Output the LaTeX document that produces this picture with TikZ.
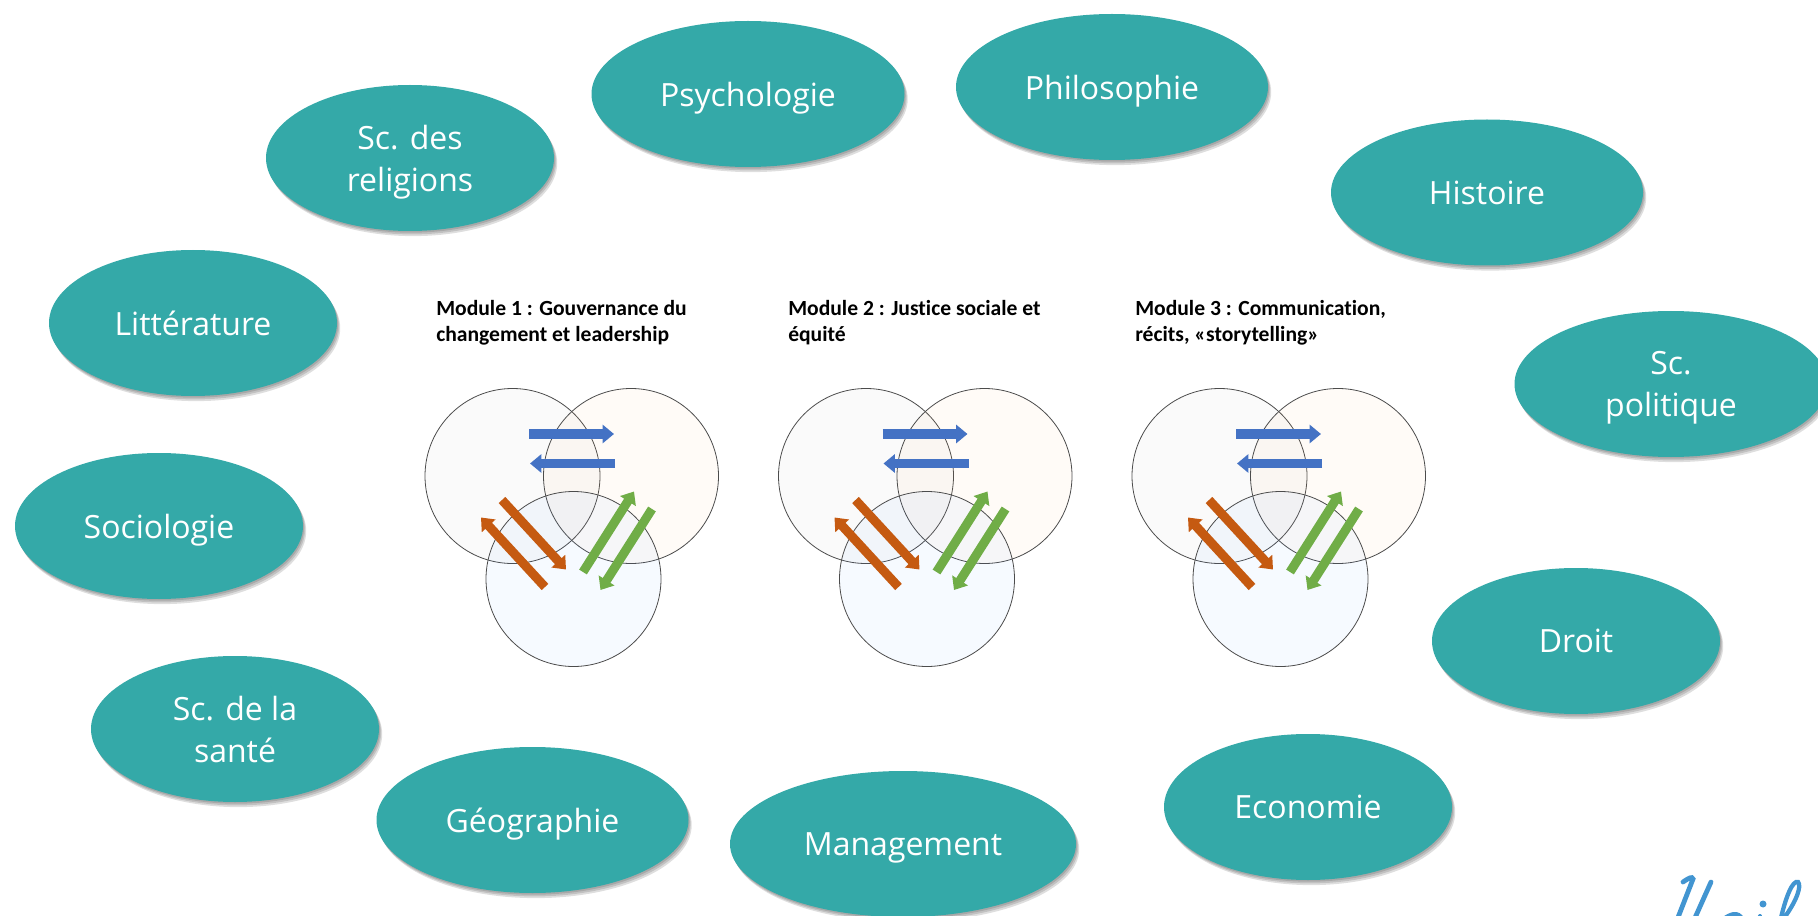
\documentclass[tikz,border=0pt]{standalone}
\usepackage{xcolor}
\usepackage{fontspec}
\setmainfont{Open Sans}
\newfontfamily\headfont[Ligatures=NoCommon]{Carlito}
\usetikzlibrary{arrows.meta}
\usetikzlibrary{shapes.geometric}
\usetikzlibrary{shadows}
\definecolor{ovalteal}{HTML}{34A9A8}
\definecolor{arrowblue}{HTML}{4472C4}
\definecolor{arrowbrown}{HTML}{C55A11}
\definecolor{arrowgreen}{HTML}{70AD47}
\definecolor{logoblue}{HTML}{4295D1}
\tikzset{
  softshadow/.style={general shadow={shadow xshift=#1,shadow yshift=-#1*1.6,opacity=0.13,fill=black}},
  discipline/.style={ellipse,fill=ovalteal,text=white,inner sep=0pt,align=center,
    minimum width=#1*0.75pt,minimum height=109.5pt,text depth=-1.5pt,
    font=\fontsize{24}{31.5}\selectfont,
    softshadow=2.4pt,softshadow=1.6pt,softshadow=0.8pt},
  discipline/.default=288,
  ring/.style={circle,draw=black!70,line width=0.6pt,minimum size=131.25pt,inner sep=0pt,fill opacity=0.05,text opacity=1},
  flow/.style={line width=6.8pt,-{Triangle[width=13.5pt,length=8.5pt]},#1},
  modulehead/.style={anchor=north west,align=left,inner sep=0pt,
    font=\headfont\bfseries\fontsize{16.2}{19.3}\selectfont}
}

\begin{document}
\begin{tikzpicture}[x=0.75pt,y=-0.75pt]
    \useasboundingbox (0,0) rectangle (1818,916);
    \clip (0,0) rectangle (1818,916);

    % DISCIPLINES
    \node[discipline=313] (psycho) at (748,94) {Psychologie};
    \node[discipline=312] (philo) at (1112,87) {Philosophie};
    \node[discipline=312] (histoire) at (1487,192.5) {Histoire};
    \node[discipline=313] (politique) at (1671,384) {Sc.\\politique};
    \node[discipline] (droit) at (1576,641) {Droit};
    \node[discipline] (economie) at (1308,807) {Economie};
    \node[discipline=346] (management) at (903,844) {Management};
    \node[discipline=312] (geo) at (532.5,820) {Géographie};
    \node[discipline] (sante) at (235,729) {Sc. de la\\santé};
    \node[discipline] (socio) at (159,526) {Sociologie};
    \node[discipline] (litt) at (193,323) {Littérature};
    \node[discipline] (religions) at (410,158) {Sc. des\\religions};

    % MODULES
    \node[modulehead] (head1) at (436,300) {Module 1 : Gouvernance du\\changement et leadership};
    \node[modulehead] (head2) at (788,300) {Module 2 : Justice sociale et\\équité};
    \node[modulehead] (head3) at (1135,300) {Module 3 : Communication,\\récits, «storytelling»};

    \foreach \m/\dx in {1/0,2/353.5,3/707} {
      \begin{scope}[xshift=\dx*0.75pt]
        \node[ring,fill=black!40] (left\m) at (512.5,476) {};
        \node[ring,fill=orange!60] (right\m) at (631,476) {};
        \node[ring,fill=blue!60!cyan!70] (low\m) at (573.5,579) {};

        \coordinate (bluea\m) at (529,434);
        \coordinate (blueb\m) at (614,434);
        \coordinate (bluec\m) at (615,463.5);
        \coordinate (blued\m) at (530,463.5);
        \coordinate (browna\m) at (502,500);
        \coordinate (brownb\m) at (566,569.5);
        \coordinate (brownc\m) at (545,587);
        \coordinate (brownd\m) at (481,517.5);
        \coordinate (greena\m) at (583,572);
        \coordinate (greenb\m) at (634,491.5);
        \coordinate (greenc\m) at (652,509);
        \coordinate (greend\m) at (600.5,590);

        \draw[flow=arrowblue] (bluea\m) -- (blueb\m);
        \draw[flow=arrowblue] (bluec\m) -- (blued\m);
        \draw[flow=arrowbrown] (browna\m) -- (brownb\m);
        \draw[flow=arrowbrown] (brownc\m) -- (brownd\m);
        \draw[flow=arrowgreen] (greena\m) -- (greenb\m);
        \draw[flow=arrowgreen] (greenc\m) -- (greend\m);
      \end{scope}
    }

    % LOGO
    \draw[logoblue,line width=3.6pt,line cap=round]
      (1683,882) .. controls (1689,878) and (1692,876) .. (1693,879) -- (1677,920);
    \draw[logoblue,line width=3.6pt,line cap=round] (1711,882) -- (1694,920);
    \draw[logoblue,line width=3pt,line cap=round]
      (1722,920) .. controls (1730,914) and (1738,910) .. (1743,920);
    \fill[logoblue] (1763,904) circle (3.5);
    \draw[logoblue,line width=3pt,line cap=round] (1760,916) -- (1758,922);
    \draw[logoblue,line width=3.2pt,line cap=round]
      (1780,922) .. controls (1786,895) and (1793,880) .. (1798,882)
      .. controls (1802,886) and (1796,902) .. (1784,918);
\end{tikzpicture}
\end{document}
